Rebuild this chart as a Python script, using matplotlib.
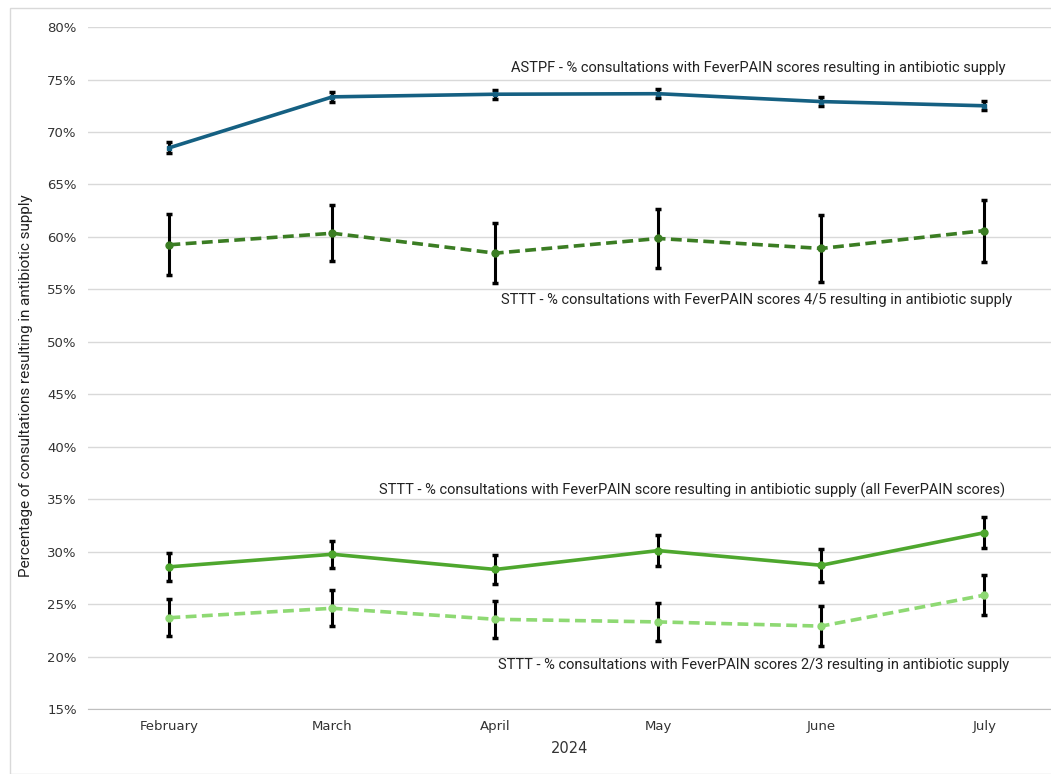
import matplotlib.pyplot as plt
from matplotlib.patches import Rectangle
from matplotlib.ticker import FuncFormatter

months = ['February', 'March', 'April', 'May', 'June', 'July']

astpf = [68.5, 73.35, 73.6, 73.65, 72.9, 72.5]
astpf_err = [0.5, 0.45, 0.45, 0.45, 0.45, 0.45]

sttt_45 = [59.25, 60.35, 58.45, 59.85, 58.9, 60.6]
sttt_45_err = [2.9, 2.65, 2.85, 2.85, 3.2, 2.95]

sttt_all = [28.55, 29.75, 28.3, 30.1, 28.7, 31.8]
sttt_all_err = [1.35, 1.3, 1.35, 1.45, 1.55, 1.5]

sttt_23 = [23.7, 24.6, 23.55, 23.3, 22.9, 25.85]
sttt_23_err = [1.75, 1.7, 1.75, 1.8, 1.9, 1.9]

labels = [
    'ASTPF - % consultations with FeverPAIN scores resulting in antibiotic supply',
    'STTT - % consultations with FeverPAIN scores 4/5 resulting in antibiotic supply',
    'STTT - % consultations with FeverPAIN score resulting in antibiotic supply (all FeverPAIN scores)',
    'STTT - % consultations with FeverPAIN scores 2/3 resulting in antibiotic supply',
]
label_y = [76.1, 54.0, 35.8, 19.2]
label_x = [5.13, 5.17, 5.13, 5.15]

fig = plt.figure(figsize=(10.51, 7.74), dpi=100)
ax = fig.add_axes([0.0837, 0.084, 0.9163, 0.881])

x = list(range(len(months)))
err_kw = dict(ecolor='black', elinewidth=2.2, capsize=2.5, capthick=2.5, zorder=3)

ax.errorbar(x, astpf, yerr=astpf_err, color='#156082', lw=2.6, marker='s',
            markersize=3, **err_kw)
ax.errorbar(x, sttt_45, yerr=sttt_45_err, color='#3b7d23', lw=2.6, ls=(0, (3, 1.5)),
            marker='o', markersize=5, **err_kw)
ax.errorbar(x, sttt_all, yerr=sttt_all_err, color='#4ea72e', lw=2.6, marker='o',
            markersize=5, **err_kw)
ax.errorbar(x, sttt_23, yerr=sttt_23_err, color='#8ed973', lw=2.6, ls=(0, (3, 1.5)),
            marker='o', markersize=5, **err_kw)

for txt, lx, ly in zip(labels, label_x, label_y):
    ax.text(lx, ly, txt, ha='right', va='center', fontsize=10.5,
            family='Roboto', color='#222222')

ax.set_xlim(-0.5, 5.41)
ax.set_ylim(15, 80)
ax.set_yticks(range(15, 81, 5))
ax.yaxis.set_major_formatter(FuncFormatter(lambda v, p: f'{v:.0f}%'))
ax.set_xticks(x)
ax.set_xticklabels(months)
ax.tick_params(length=0, labelsize=9.5, colors='#333333', pad=8)
for lab in ax.get_xticklabels() + ax.get_yticklabels():
    lab.set_family('DejaVu Sans')

ax.grid(axis='y', color='#d9d9d9', lw=1)
ax.set_axisbelow(True)
for s in ['top', 'right', 'left']:
    ax.spines[s].set_visible(False)
ax.spines['bottom'].set_color('#bfbfbf')

ax.set_xlabel('2024', fontsize=10.5, color='#333333', labelpad=6)
ax.set_ylabel('Percentage of consultations resulting in antibiotic supply',
              fontsize=11, color='#222222',
              family=['Liberation Sans Narrow', 'Roboto'])
ax.yaxis.set_label_coords(-0.057, 0.474)

fig.patches.append(Rectangle((10 / 1051, 0.0), 1.1, 1 - 8 / 774, transform=fig.transFigure,
                             fill=False, edgecolor='#d9d9d9', lw=1))

fig.savefig('out.png', dpi=100)
